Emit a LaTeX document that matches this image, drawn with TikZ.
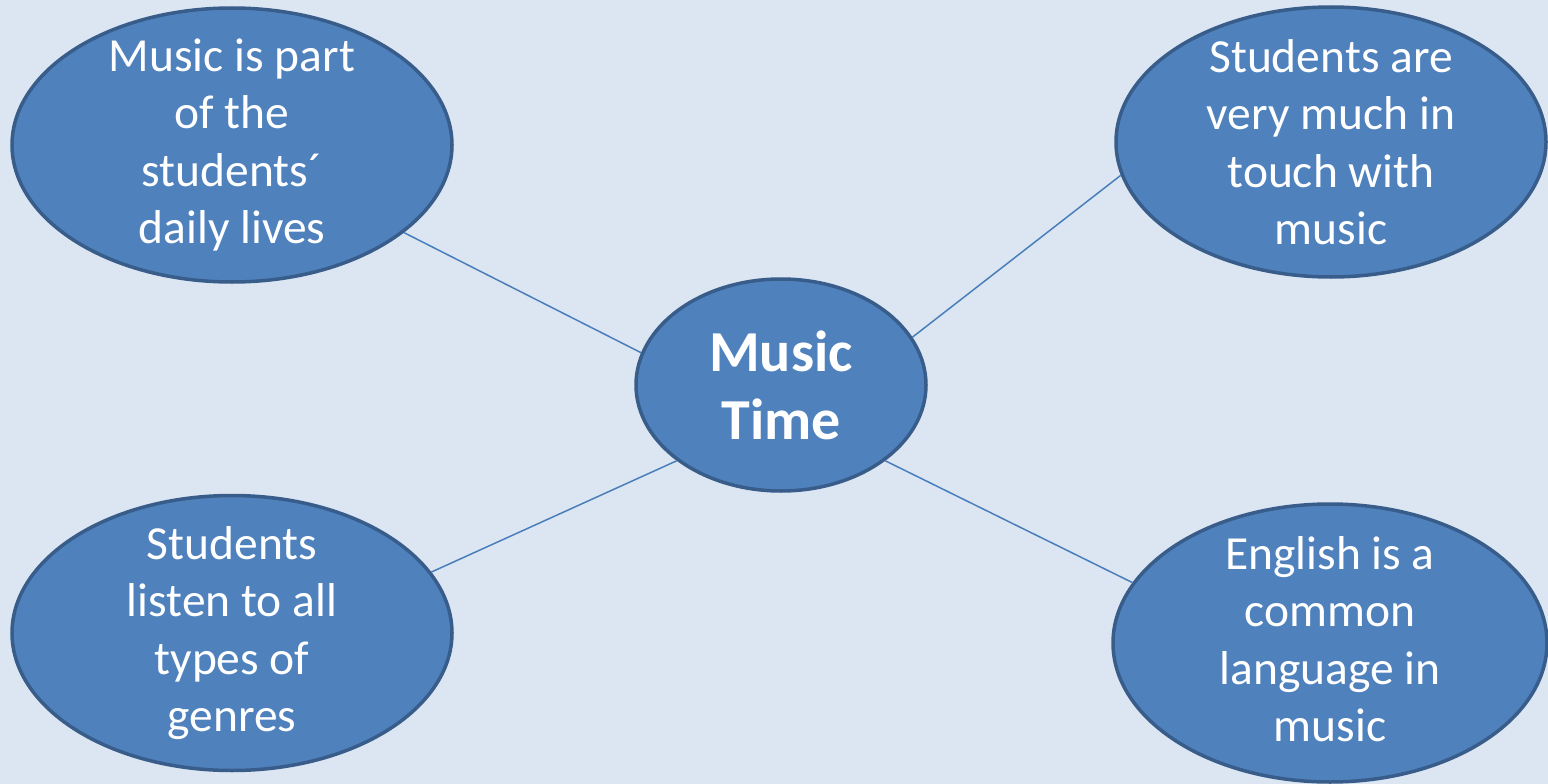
\documentclass[tikz,border=0pt]{standalone}
\usepackage{fontspec}
\setmainfont{Carlito}
\usetikzlibrary{shapes.geometric}
\definecolor{pagebg}{HTML}{DCE6F2}
\definecolor{bubfill}{HTML}{4F81BD}
\definecolor{bubedge}{HTML}{385D8A}
\definecolor{linkcol}{HTML}{4A7EBB}
\begin{document}
\begin{tikzpicture}[x=1pt,y=-1pt,
  bubble/.style={ellipse,fill=bubfill,draw=bubedge,line width=3.5pt,inner sep=0pt},
  bubtext/.style={text=white,align=center,font=\fontsize{47.5}{57.5}\selectfont},
  hubtext/.style={text=white,align=center,font=\bfseries\fontsize{58}{68}\selectfont},
  link/.style={draw=linkcol,line width=1.5pt}]
  \fill[pagebg] (0,0) rectangle (1548,784);
  \useasboundingbox (0,0) rectangle (1548,784);

  % centres of the five bubbles
  \path (232,145) coordinate (tlc) (1331,142) coordinate (trc)
        (781,385) coordinate (hubc) (232,633) coordinate (blc) (1330,643) coordinate (brc);

  \node[bubble,minimum width=440pt,minimum height=274pt] (tl) at (tlc) {};
  \node[bubble,minimum width=430pt,minimum height=270pt] (tr) at (trc) {};
  \node[bubble,minimum width=290pt,minimum height=212pt] (hub) at (hubc) {};
  \node[bubble,minimum width=440pt,minimum height=275pt] (bl) at (blc) {};
  \node[bubble,minimum width=434pt,minimum height=278pt] (br) at (brc) {};

  \draw[link] (tl.-27.4) -- (hub.167.6);
  \draw[link] (hub.20.1) -- (tr.189.5);
  \draw[link] (bl.17.1) -- (hub.216.6);
  \draw[link] (hub.-36.5) -- (br.163.4);

  \node[bubtext] (tlt) at (tl) {Music is part\\of the\\students´\\daily lives};
  \node[bubtext] (trt) at (tr) {Students are\\very much in\\touch with\\music};
  \node[hubtext] (hubt) at (hub) {Music\\Time};
  \node[bubtext] (blt) at (bl) {Students\\listen to all\\types of\\genres};
  \node[bubtext] (brt) at ([yshift=4pt]br.center) {English is a\\common\\language in\\music};
\end{tikzpicture}
\end{document}
